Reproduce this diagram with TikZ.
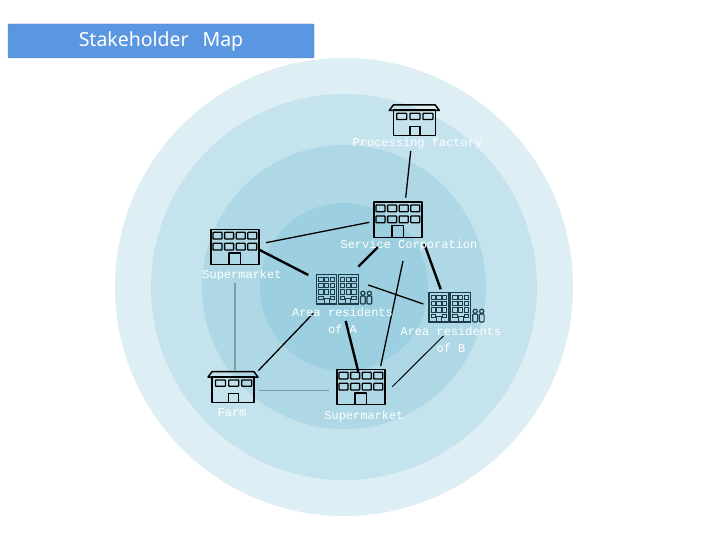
\documentclass[tikz,border=0pt]{standalone}
\usepackage{fontspec}
\setmainfont{Liberation Mono}
\newfontfamily\titlefont{Noto Sans}
\usetikzlibrary{calc}
\definecolor{ringA}{HTML}{DDEEF4}
\definecolor{ringB}{HTML}{C5E3ED}
\definecolor{ringC}{HTML}{AFD8E6}
\definecolor{ringD}{HTML}{9CD0E0}
\definecolor{banner}{HTML}{5B96E0}
\definecolor{tower}{HTML}{1C3A48}
\tikzset{
  x=1pt,y=-1pt,
  anchorbox/.style={inner sep=0pt,outer sep=0pt,minimum width=48pt,minimum height=36pt},
  label/.style={text=white,font=\fontsize{12}{17}\selectfont,align=center,inner sep=0pt},
  wall/.style={draw=black,line width=1.5pt,line join=round},
  pane/.style={draw=black,line width=1.3pt,rounded corners=0.6pt},
  twall/.style={draw=tower,line width=1.2pt},
  tpane/.style={draw=tower,line width=0.9pt},
  thinlink/.style={draw=black,line width=1.3pt},
  thicklink/.style={draw=black,line width=2.4pt},
  finelink/.style={draw=black,line width=1pt},
  palelink/.style={draw=black!30!ringC,line width=1.1pt},
  greylink/.style={draw=black!32!ringB,line width=1.3pt},
}
\newcommand{\officeb}[3]{%
  \node[anchorbox] (#1) at (#2,#3) {};
  \begin{scope}[shift={(#2,#3)}]
    \draw[wall] (-24,-17.7) rectangle (24,17.7);
    \foreach \col in {0,1,2,3} \foreach \ro in {-14.7,-3.7}
      \draw[pane] (-22+\col*11.6,\ro) rectangle ++(9,6.7);
    \draw[wall] (-6,17.7) -- (-6,5.8) -- (5.5,5.8) -- (5.5,17.7);
  \end{scope}}
\newcommand{\factoryb}[3]{%
  \node[anchorbox] (#1) at (#2,#3) {};
  \begin{scope}[shift={(#2,#3)}]
    \draw[wall] (-21,-10) rectangle (21,15.7);
    \draw[wall] (-25,-9.5) -- (-21,-15) -- (21,-15) -- (25,-9.5) -- cycle;
    \foreach \st in {-17.6,-4.3,8.7}
      \draw[pane] (\st,-6.7) rectangle ++(10,6.2);
    \draw[wall] (-4.3,15.7) -- (-4.3,6.7) -- (5.7,6.7) -- (5.7,15.7);
  \end{scope}}
\newcommand{\residentsb}[3]{%
  \node[anchorbox] (#1) at (#2,#3) {};
  \begin{scope}[shift={(#2,#3)}]
    \foreach \tx in {-27.3,-5.7} {
      \draw[twall] (\tx,-14.7) rectangle ++(20,29.7);
      \foreach \col in {0,1,2} \foreach \ro in {0,1,2}
        \draw[tpane] (\tx+2.2+\col*5.6,-12+\ro*6.4) rectangle ++(4.4,4.2);
      \draw[tpane] (\tx+2.2,7.2) rectangle ++(4.4,3.6);
      \draw[tpane] (\tx+13.4,7.2) rectangle ++(4.4,3.6);
      \draw[tpane] (\tx+7.4,9.5) rectangle ++(5.2,5.5);
    }
    \foreach \px in {16.5,23} {
      \draw[twall] (\px+2.4,4.3) circle (2.1);
      \draw[twall,rounded corners=1pt] (\px,7) rectangle ++(4.8,8);
    }
  \end{scope}}
\begin{document}
\begin{tikzpicture}
\useasboundingbox (0,0) rectangle (720,540);
\fill[white] (0,0) rectangle (720,540);
\fill[ringA] (344,287) circle (229);
\fill[ringB] (344,287) circle (193);
\fill[ringC] (344,287) circle (142);
\fill[ringD] (344,287) circle (84);
\node[fill=banner,draw=banner!85!black,line width=0.4pt,rounded corners=1pt,minimum width=306pt,minimum height=34pt,inner sep=0pt,text=white,font=\titlefont\fontsize{19.5}{24}\selectfont] (title) at (161,41) {Stakeholder\hspace{0.45em} Map};
\factoryb{proc}{414.3}{120}
\officeb{sc}{398}{219.7}
\officeb{smone}{235}{247}
\officeb{smtwo}{361}{387}
\factoryb{farm}{233}{386.7}
\residentsb{resa}{344}{289}
\residentsb{resb}{456.3}{307}
\draw[thinlink] ($(proc)+(-3.6,31)$) -- ($(sc)+(7.7,-22)$);
\draw[thinlink] ($(smone)+(31,-4.3)$) -- ($(sc)+(-28.7,2.6)$);
\draw[thicklink] ($(smone)+(23.3,2.3)$) -- ($(resa)+(-35.7,-14)$);
\draw[thicklink] ($(sc)+(-19.7,27)$) -- ($(resa)+(14.3,-22.3)$);
\draw[thicklink] ($(sc)+(26.3,24.3)$) -- ($(resb)+(-15.6,-17.7)$);
\draw[thinlink] ($(sc)+(5,41.3)$) -- ($(smtwo)+(19.7,-21)$);
\draw[thinlink] ($(resa)+(24.3,-4)$) -- ($(resb)+(-33,-3)$);
\draw[thicklink] ($(resa)+(1.7,32)$) -- ($(smtwo)+(-2.7,-15.3)$);
\draw[thinlink] ($(resa)+(-30.7,24.3)$) -- ($(farm)+(25.3,-16)$);
\draw[finelink] ($(resb)+(-13,29)$) -- ($(smtwo)+(31.3,-0.3)$);
\draw[palelink] ($(farm)+(26,3.6)$) -- ($(smtwo)+(-32,3.3)$);
\draw[greylink] ($(smone)+(0,36.3)$) -- ($(farm)+(2,-16.7)$);
\node[label] (lproc) at (417.5,143) {Processing factory};
\node[label] (lsc) at (409,245) {Service Corporation};
\node[label] (lsmone) at (242,275) {Supermarket};
\node[label] (lresa) at (342.5,320.5) {Area residents\\of A};
\node[label] (lresb) at (451,339.5) {Area residents\\of B};
\node[label] (lfarm) at (232,412.5) {Farm};
\node[label] (lsmtwo) at (364,416) {Supermarket};
\end{tikzpicture}
\end{document}
